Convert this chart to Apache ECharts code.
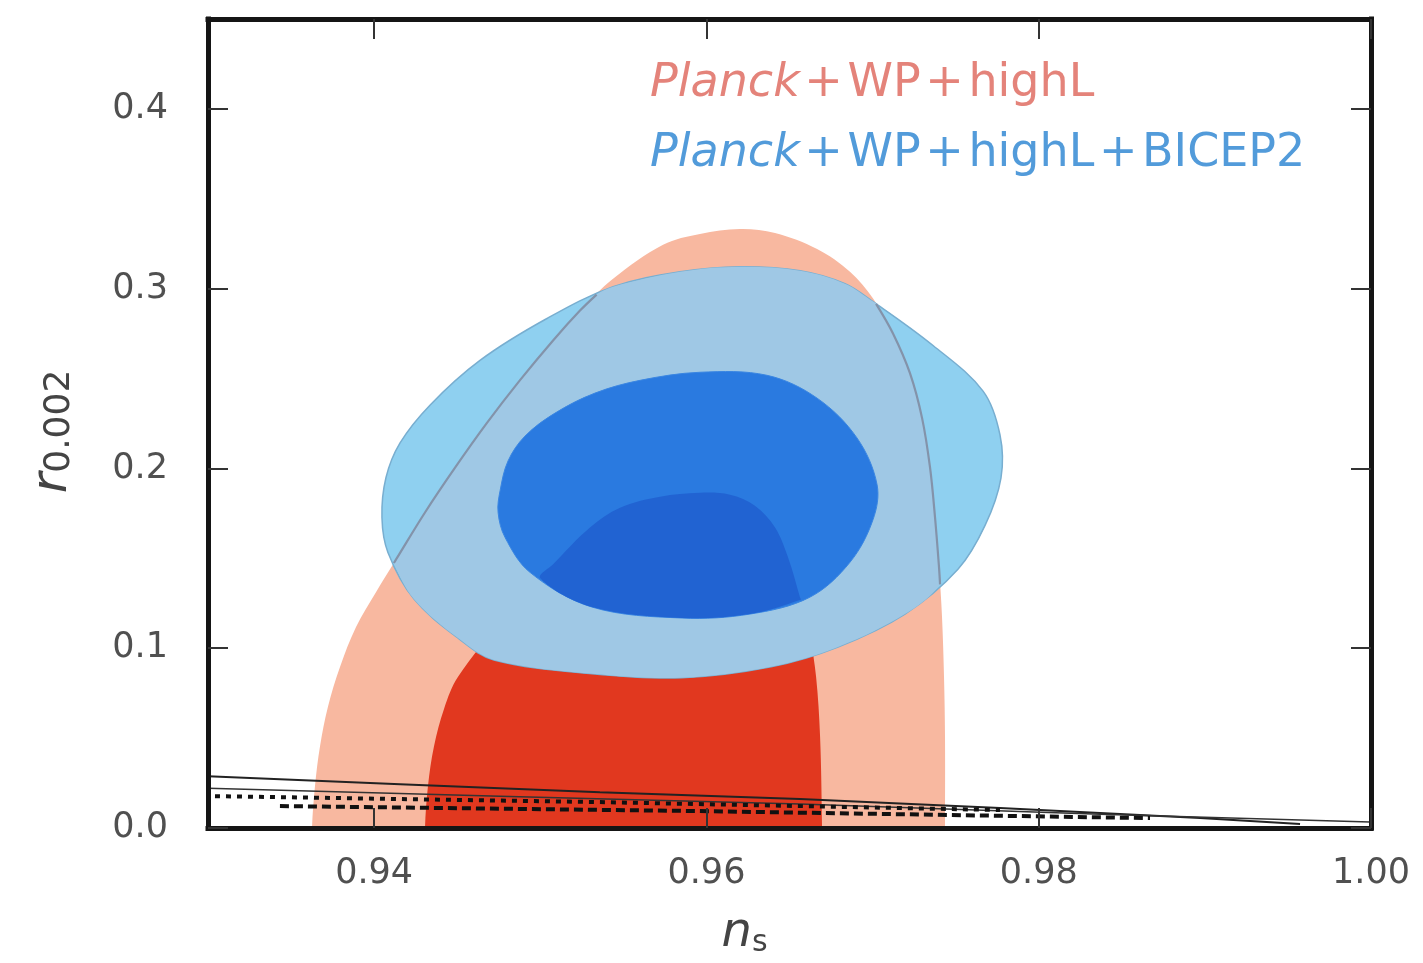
<!DOCTYPE html>
<html>
<head>
<meta charset="utf-8">
<script src="https://cdn.jsdelivr.net/npm/echarts@6/dist/echarts.min.js"></script>
<style>html,body{margin:0;padding:0;background:#fff;}#c{width:1423px;height:963px;}</style>
</head>
<body>
<div id="c"></div>
<script>
// ---- axis extents & ticks ----
const xMin = 0.93, xMax = 1.00;
const yMin = 0.0, yMax = 0.45;
const xTicks = [0.94, 0.96, 0.98, 1.00];
const yTicks = [0.0, 0.1, 0.2, 0.3, 0.4];

// ---- contour outlines [n_s, r_0.002] ----
const planckOuter = [[0.93626,-0.02],[0.93626,0],[0.93644,0.0233],[0.93674,0.0454],[0.93722,0.0675],[0.93795,0.0897],[0.93891,0.1118],[0.94011,0.1312],[0.94132,0.1494],[0.94306,0.1755],[0.94487,0.2004],[0.94679,0.2253],[0.94878,0.2491],[0.95077,0.2712],[0.95239,0.2878],[0.95438,0.3055],[0.95739,0.3244],[0.95961,0.3304],[0.96202,0.3332],[0.96413,0.3310],[0.96666,0.3221],[0.96864,0.3094],[0.97003,0.2945],[0.97123,0.2751],[0.97225,0.2530],[0.97298,0.2280],[0.97346,0.2004],[0.97376,0.1727],[0.97400,0.1450],[0.97418,0.1173],[0.97430,0.0841],[0.97436,0.0509],[0.97436,0],[0.97436,-0.02]];
const planckInner = [[0.94306,-0.02],[0.94306,0],[0.94324,0.0233],[0.94360,0.0454],[0.94421,0.0664],[0.94505,0.0841],[0.94788,0.1173],[0.95077,0.1467],[0.95299,0.1672],[0.95480,0.1782],[0.95721,0.1843],[0.95961,0.1865],[0.96142,0.1854],[0.96292,0.1793],[0.96413,0.1672],[0.96491,0.1506],[0.96563,0.1284],[0.96623,0.1063],[0.96660,0.0841],[0.96684,0.0509],[0.96696,0],[0.96696,-0.02]];
const bicepOuter = [[0.94047,0.1727],[0.94071,0.1948],[0.94156,0.2142],[0.94336,0.2352],[0.94637,0.2601],[0.95040,0.2834],[0.95438,0.3011],[0.95841,0.3094],[0.96202,0.3122],[0.96563,0.3100],[0.96834,0.3028],[0.97003,0.2928],[0.97364,0.2684],[0.97665,0.2430],[0.97767,0.2186],[0.97773,0.1948],[0.97677,0.1683],[0.97514,0.1439],[0.97195,0.1190],[0.96792,0.1007],[0.96389,0.0897],[0.95853,0.0836],[0.95311,0.0858],[0.94721,0.0935],[0.94511,0.1052],[0.94240,0.1273],[0.94083,0.1533]];
const bicepInner = [[0.94746,0.1755],[0.94758,0.1876],[0.94806,0.2042],[0.94908,0.2180],[0.95089,0.2308],[0.95329,0.2419],[0.95600,0.2490],[0.95961,0.2535],[0.96365,0.2518],[0.96666,0.2391],[0.96906,0.2170],[0.97027,0.1910],[0.97003,0.1716],[0.96864,0.1478],[0.96623,0.1284],[0.96262,0.1190],[0.95853,0.1168],[0.95311,0.1229],[0.94938,0.1422],[0.94788,0.1616]];

// ---- thin black contours near r = 0 ----
const lowLineA = [[0.93,0.0288],[0.94156,0.0244],[0.95359,0.0199],[0.96563,0.0161],[0.97767,0.0111],[0.98971,0.0055],[0.99573,0.0022]];
const lowLineB = [[0.93,0.0221],[0.94758,0.0177],[0.96563,0.0133],[0.98369,0.0077],[0.99994,0.0033]];
const lowDashC = [[0.93042,0.0177],[0.95359,0.0144],[0.97767,0.0100]];
const lowDashD = [[0.93433,0.0122],[0.95961,0.0094],[0.98670,0.0055]];

// ---- helpers (pixel-space geometry) ----
function signedArea(p){let a=0;for(let i=0;i<p.length;i++){const q=p[(i+1)%p.length];a+=p[i][0]*q[1]-q[0]*p[i][1];}return a;}
function sideFn(A,B,sg){return p=>sg*((B[0]-A[0])*(p[1]-A[1])-(B[1]-A[1])*(p[0]-A[0]));}
function clipPoly(subj, clip){
  const sg = signedArea(clip) > 0 ? 1 : -1;
  let out = subj.slice();
  for (let i=0;i<clip.length && out.length;i++){
    const side = sideFn(clip[i], clip[(i+1)%clip.length], sg);
    const inp = out; out = [];
    for (let j=0;j<inp.length;j++){
      const P=inp[j], Q=inp[(j+1)%inp.length];
      const sp=side(P), sq=side(Q);
      if (sp>=0) out.push(P);
      if ((sp>=0)!==(sq>=0)){const t=sp/(sp-sq);out.push([P[0]+t*(Q[0]-P[0]),P[1]+t*(Q[1]-P[1])]);}
    }
  }
  return out;
}
function insideConvex(p, poly){
  const sg = signedArea(poly) > 0 ? 1 : -1;
  for (let i=0;i<poly.length;i++){ if (sideFn(poly[i],poly[(i+1)%poly.length],sg)(p) < 0) return false; }
  return true;
}
function runsInside(path, poly){
  const runs=[]; let cur=null; const n=path.length;
  const ins = p=>insideConvex(p,poly);
  const cross=(P,Q,a)=>{let lo=0,hi=1;for(let k=0;k<30;k++){const m=(lo+hi)/2;const M=[P[0]+m*(Q[0]-P[0]),P[1]+m*(Q[1]-P[1])];if(ins(M)===a)lo=m;else hi=m;}return [P[0]+lo*(Q[0]-P[0]),P[1]+lo*(Q[1]-P[1])];};
  for (let i=0;i<n;i++){
    const P=path[i], Q=path[(i+1)%n]; const a=ins(P), b=ins(Q);
    if (a && !cur) cur=[P];
    if (a && b) cur.push(Q);
    else if (a && !b){cur.push(cross(P,Q,true));runs.push(cur);cur=null;}
    else if (!a && b){cur=[cross(P,Q,false),Q];}
  }
  if (cur) runs.push(cur);
  return runs;
}
const SM = 0.35;
function toPx(api, arr){ return arr.map(p=>api.coord(p)); }

function layer(name, data, build){
  return { type:'custom', name:name, data:data, encode:{x:0,y:1}, clip:true, silent:true,
    xAxisIndex:0, yAxisIndex:0,
    renderItem:function(params, api){ if (params.dataIndex!==0) return null; return build(api); } };
}

const tok = (c, it) => ({fontStyle: it ? 'italic' : 'normal', fontWeight:'normal', fontSize:46, color:c, fontFamily:'DejaVu Sans'});
const SP = '\u200A+\u200A';

const option = {
  animation:false,
  backgroundColor:'#ffffff',
  title:[
    {left:645, top:56, text:'{i|Planck}{t|' + SP + 'WP' + SP + 'highL}',
     textStyle:{fontWeight:'normal', rich:{i:tok('#e4837a',true), t:tok('#e4837a',false)}}},
    {left:645, top:126, text:'{i|Planck}{t|' + SP + 'WP' + SP + 'highL' + SP + 'BICEP2}',
     textStyle:{fontWeight:'normal', rich:{i:tok('#529bda',true), t:tok('#529bda',false)}}}
  ],
  grid:{left:208, right:52, top:19, bottom:131, containLabel:false},
  xAxis:[
    {type:'value', min:xMin, max:xMax, position:'bottom', z:10,
     axisLine:{show:true,onZero:false,lineStyle:{color:'#151515',width:5,cap:'square'}},
     axisTick:{show:true,inside:true,length:20,customValues:xTicks,lineStyle:{color:'#333',width:2}},
     axisLabel:{customValues:xTicks,formatter:v=>v.toFixed(2),margin:28,fontSize:35,color:'#505050',fontFamily:'DejaVu Sans'},
     splitLine:{show:false},
     name:'{n|n}{s|s}', nameLocation:'middle', nameGap:80,
     nameTextStyle:{padding:[0,90,0,0],rich:{n:{fontStyle:'italic',fontSize:48,color:'#444',fontFamily:'DejaVu Sans',lineHeight:50,verticalAlign:'bottom'},s:{fontSize:30,color:'#444',fontFamily:'DejaVu Sans',lineHeight:30,padding:[22,0,0,0],verticalAlign:'bottom'}}}},
    {type:'value', min:xMin, max:xMax, position:'top', z:10,
     axisLine:{show:true,onZero:false,lineStyle:{color:'#151515',width:5,cap:'square'}},
     axisTick:{show:true,inside:true,length:20,customValues:xTicks,lineStyle:{color:'#333',width:2}},
     axisLabel:{show:false}, splitLine:{show:false}}
  ],
  yAxis:[
    {type:'value', min:yMin, max:yMax, position:'left', z:10,
     axisLine:{show:true,onZero:false,lineStyle:{color:'#151515',width:5,cap:'square'}},
     axisTick:{show:true,inside:true,length:20,customValues:yTicks,lineStyle:{color:'#333',width:2}},
     axisLabel:{customValues:yTicks,formatter:v=>v.toFixed(1),margin:40,fontSize:35,color:'#505050',fontFamily:'DejaVu Sans'},
     splitLine:{show:false},
     name:'{r|r}{s|0.002}', nameLocation:'middle', nameGap:130, nameRotate:90,
     nameTextStyle:{padding:[0,16,0,0],rich:{r:{fontStyle:'italic',fontSize:50,color:'#444',fontFamily:'DejaVu Sans',lineHeight:52,verticalAlign:'bottom'},s:{fontSize:36,color:'#444',fontFamily:'DejaVu Sans',lineHeight:36,padding:[20,0,0,0],verticalAlign:'bottom'}}}},
    {type:'value', min:yMin, max:yMax, position:'right', z:10,
     axisLine:{show:true,onZero:false,lineStyle:{color:'#151515',width:5,cap:'square'}},
     axisTick:{show:true,inside:true,length:20,customValues:yTicks,lineStyle:{color:'#333',width:2}},
     axisLabel:{show:false}, splitLine:{show:false}}
  ],
  series:[
    layer('Planck 95%', planckOuter, api=>({type:'polygon',shape:{points:toPx(api,planckOuter),smooth:SM},style:{fill:'#f8b8a0'}})),
    layer('Planck 68%', planckInner, api=>({type:'polygon',shape:{points:toPx(api,planckInner),smooth:SM},style:{fill:'#e1381f'}})),
    layer('BICEP2 95%', bicepOuter, api=>({type:'polygon',shape:{points:toPx(api,bicepOuter),smooth:SM},style:{fill:'#8fd0f0',stroke:'#78aed0',lineWidth:1.5}})),
    layer('BICEP2 95% over Planck', bicepOuter, api=>({type:'polygon',shape:{points:clipPoly(toPx(api,bicepOuter),toPx(api,planckOuter)),smooth:SM},style:{fill:'#9fc8e5'}})),
    layer('BICEP2 68%', bicepInner, api=>({type:'polygon',shape:{points:toPx(api,bicepInner),smooth:SM},style:{fill:'#2a7ae0',stroke:'#3a86e2',lineWidth:1}})),
    layer('BICEP2 68% over Planck 68%', planckInner, api=>({type:'polygon',shape:{points:clipPoly(toPx(api,planckInner),toPx(api,bicepInner)),smooth:SM},style:{fill:'#2163d2'}})),
    layer('Planck 95% edge', planckOuter, api=>({type:'group',children:runsInside(toPx(api,planckOuter),toPx(api,bicepOuter)).map(r=>({type:'polyline',shape:{points:r,smooth:SM},style:{fill:null,stroke:'#8393aa',lineWidth:2.2}}))})),
    {type:'line', data:lowLineA, showSymbol:false, silent:true, lineStyle:{color:'#222',width:2}, z:3},
    {type:'line', data:lowLineB, showSymbol:false, silent:true, lineStyle:{color:'#333',width:1.5}, z:3},
    {type:'line', data:lowDashC, showSymbol:false, silent:true, lineStyle:{color:'#111',width:4,type:[5,6]}, z:3},
    {type:'line', data:lowDashD, showSymbol:false, silent:true, lineStyle:{color:'#111',width:4,type:[9,5]}, z:3}
  ]
};
const chart = echarts.init(document.getElementById('c'), null, {renderer:'canvas'});
chart.setOption(option);
</script>
</body>
</html>
